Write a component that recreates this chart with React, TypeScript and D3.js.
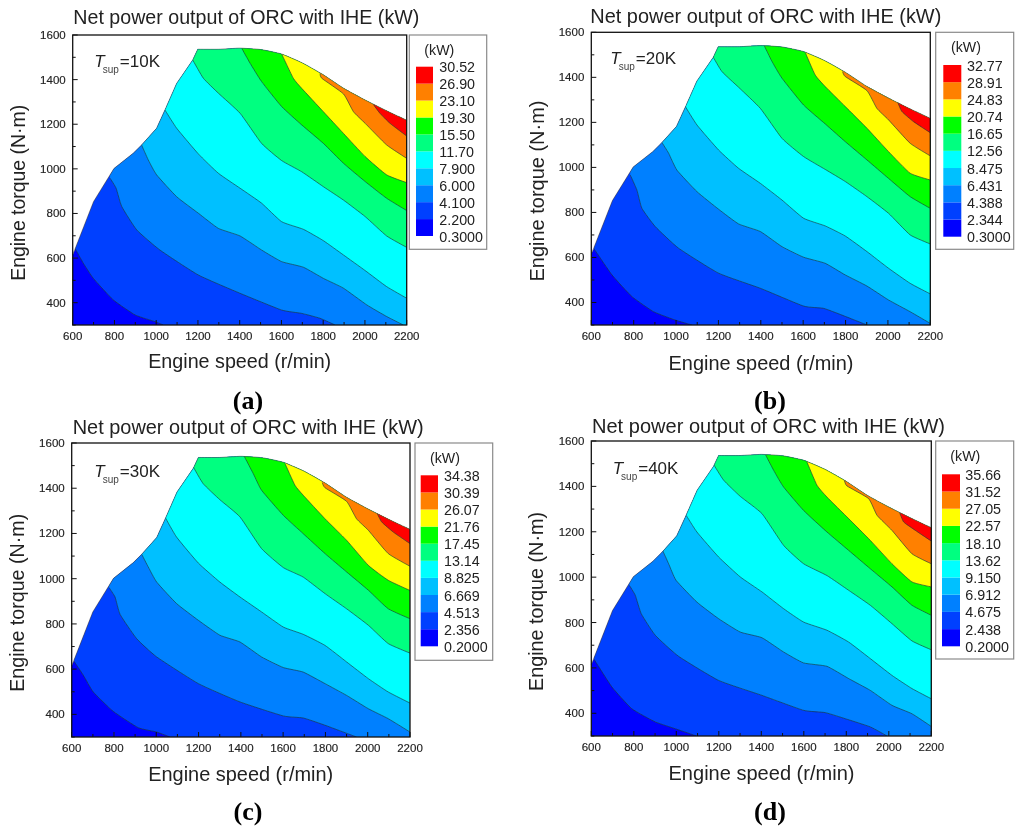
import React from "react";
import * as d3 from "d3";

type Pt = [number, number];

const titleText = "Net power output of ORC with IHE (kW)";
const xLabelText = "Engine speed (r/min)";
const yLabelText = "Engine torque (N·m)";
const xMajorTicks = [600, 800, 1000, 1200, 1400, 1600, 1800, 2000, 2200];
const xMinorTicks = [700, 900, 1100, 1300, 1500, 1700, 1900, 2100];
const yMajorTicks = [400, 600, 800, 1000, 1200, 1400, 1600];
const yMinorTicks = [300, 500, 700, 900, 1100, 1300, 1500];
const bandColors = ["#0000ff", "#0040ff", "#0080ff", "#00c0ff", "#00ffff", "#00ff80", "#00ff00", "#ffff00", "#ff8000", "#ff0000"];

const envelopeRise: Pt[] = [[600, 615], [611, 640], [700, 853], [798, 1002], [890, 1070], [930, 1107], [1002, 1182], [1042, 1264], [1098, 1383], [1175, 1488], [1199, 1536]];
const envelopeTop: Pt[] = [[1199, 1536], [1300, 1536], [1400, 1541], [1500, 1535], [1600, 1515], [1700, 1475], [1800, 1422], [1900, 1360], [2000, 1309], [2100, 1262], [2200, 1218]];

const levelsA = ["0.3000", "2.200", "4.100", "6.000", "7.900", "11.70", "15.50", "19.30", "23.10", "26.90", "30.52"];
const levelsB = ["0.3000", "2.344", "4.388", "6.431", "8.475", "12.56", "16.65", "20.74", "24.83", "28.91", "32.77"];
const levelsC = ["0.2000", "2.356", "4.513", "6.669", "8.825", "13.14", "17.45", "21.76", "26.07", "30.39", "34.38"];
const levelsD = ["0.2000", "2.438", "4.675", "6.912", "9.150", "13.62", "18.10", "22.57", "27.05", "31.52", "35.66"];

const contoursA: Pt[][] = [
  [[611, 644], [651, 577], [699, 509], [795, 412], [899, 345], [994, 315], [1034, 300]],
  [[779, 958], [808, 913], [835, 831], [907, 726], [1018, 636], [1202, 524], [1402, 442], [1601, 367], [1697, 352], [1785, 330], [1857, 300]],
  [[930, 1107], [962, 1040], [1002, 973], [1098, 875], [1202, 801], [1298, 733], [1402, 699], [1505, 636], [1601, 584], [1705, 559], [1801, 509], [1897, 465], [2009, 390], [2104, 338], [2184, 300]],
  [[1042, 1264], [1098, 1182], [1202, 1067], [1298, 980], [1402, 913], [1505, 846], [1601, 763], [1705, 729], [1801, 678], [1897, 614], [2001, 544], [2104, 472], [2200, 420]],
  [[1175, 1488], [1226, 1406], [1298, 1339], [1402, 1249], [1505, 1114], [1601, 1037], [1697, 987], [1801, 920], [1897, 860], [2001, 786], [2104, 699], [2200, 648]],
  [[1410, 1540], [1450, 1473], [1505, 1391], [1601, 1279], [1697, 1197], [1801, 1114], [1897, 1025], [2001, 943], [2104, 868], [2200, 813]],
  [[1601, 1515], [1657, 1406], [1697, 1361], [1801, 1256], [1897, 1159], [2001, 1055], [2104, 973], [2200, 938]],
  [[1785, 1428], [1793, 1406], [1897, 1336], [1945, 1256], [2001, 1204], [2104, 1107], [2200, 1047]],
  [[2040, 1289], [2072, 1249], [2120, 1204], [2200, 1147]],
];

const contoursB: Pt[][] = [
  [[611, 641], [698, 522], [792, 426], [894, 359], [996, 322], [1075, 300]],
  [[784, 966], [815, 900], [839, 818], [902, 737], [1012, 641], [1201, 530], [1398, 463], [1602, 384], [1696, 374], [1783, 344], [1901, 300]],
  [[933, 1111], [965, 1063], [1004, 988], [1099, 892], [1201, 814], [1295, 749], [1398, 715], [1500, 648], [1602, 601], [1704, 574], [1799, 522], [1901, 473], [2003, 411], [2105, 359], [2200, 307]],
  [[1044, 1270], [1099, 1188], [1201, 1077], [1295, 996], [1398, 929], [1500, 855], [1602, 774], [1704, 740], [1799, 695], [1901, 626], [2003, 552], [2105, 485], [2200, 438]],
  [[1174, 1492], [1217, 1425], [1295, 1356], [1398, 1262], [1500, 1129], [1602, 1048], [1704, 991], [1799, 937], [1901, 870], [2003, 796], [2105, 700], [2200, 660]],
  [[1416, 1541], [1453, 1470], [1500, 1396], [1602, 1277], [1704, 1193], [1799, 1114], [1901, 1033], [2003, 951], [2105, 870], [2200, 818]],
  [[1610, 1510], [1657, 1410], [1704, 1359], [1799, 1270], [1901, 1174], [2003, 1070], [2105, 974], [2200, 944]],
  [[1786, 1425], [1799, 1403], [1901, 1341], [1948, 1262], [2003, 1211], [2105, 1107], [2200, 1051]],
  [[2047, 1288], [2066, 1248], [2121, 1203], [2200, 1154]],
];

const contoursC: Pt[][] = [
  [[611, 635], [655, 573], [702, 499], [797, 413], [915, 341], [1002, 322], [1065, 300]],
  [[777, 960], [805, 919], [829, 842], [907, 735], [1002, 654], [1199, 536], [1396, 455], [1601, 393], [1695, 384], [1798, 352], [1947, 300]],
  [[931, 1108], [962, 1052], [1002, 985], [1096, 890], [1199, 816], [1301, 750], [1396, 720], [1498, 654], [1601, 607], [1695, 587], [1798, 536], [1900, 484], [2003, 425], [2097, 381], [2200, 322]],
  [[1044, 1268], [1096, 1184], [1199, 1069], [1301, 985], [1396, 919], [1498, 853], [1601, 786], [1695, 754], [1798, 705], [1900, 632], [2003, 558], [2097, 499], [2200, 450]],
  [[1175, 1494], [1222, 1420], [1301, 1349], [1396, 1273], [1498, 1133], [1601, 1049], [1695, 1007], [1798, 934], [1900, 867], [2003, 794], [2097, 713], [2200, 671]],
  [[1416, 1541], [1459, 1464], [1498, 1391], [1601, 1280], [1695, 1199], [1798, 1111], [1900, 1030], [2003, 949], [2097, 867], [2200, 823]],
  [[1609, 1509], [1656, 1413], [1695, 1369], [1798, 1265], [1900, 1170], [2003, 1059], [2097, 993], [2200, 948]],
  [[1785, 1425], [1798, 1402], [1900, 1342], [1947, 1265], [2003, 1214], [2097, 1111], [2200, 1055]],
  [[2045, 1288], [2066, 1251], [2121, 1206], [2200, 1155]],
];

const contoursD: Pt[][] = [
  [[611, 641], [697, 516], [791, 420], [901, 362], [995, 332], [1095, 300]],
  [[779, 964], [807, 920], [835, 839], [901, 744], [1011, 651], [1199, 545], [1403, 479], [1599, 413], [1701, 403], [1796, 376], [1913, 340], [1992, 300]],
  [[937, 1115], [964, 1059], [999, 986], [1097, 890], [1199, 817], [1301, 758], [1403, 733], [1505, 670], [1599, 622], [1709, 607], [1811, 553], [1913, 501], [2015, 435], [2109, 398], [2200, 342]],
  [[1047, 1272], [1097, 1199], [1199, 1089], [1301, 1001], [1403, 935], [1505, 861], [1599, 802], [1709, 766], [1811, 714], [1913, 641], [2015, 567], [2109, 509], [2200, 464]],
  [[1176, 1496], [1223, 1427], [1301, 1356], [1403, 1280], [1505, 1140], [1599, 1059], [1709, 1007], [1811, 942], [1913, 876], [2015, 795], [2109, 719], [2200, 680]],
  [[1419, 1541], [1458, 1471], [1505, 1397], [1599, 1294], [1709, 1199], [1811, 1118], [1913, 1037], [2015, 957], [2109, 876], [2200, 832]],
  [[1615, 1507], [1662, 1405], [1709, 1353], [1811, 1258], [1913, 1162], [2015, 1059], [2109, 979], [2200, 957]],
  [[1791, 1427], [1803, 1402], [1905, 1346], [1945, 1272], [2015, 1206], [2109, 1103], [2200, 1059]],
  [[2050, 1287], [2070, 1243], [2125, 1206], [2200, 1159]],
];

const panels = [
  {
    id: "a", tsup: "=10K", levels: levelsA, contours: contoursA,
    plot: [72.7, 406.7, 35, 325], box: [409.3, 486.7, 35, 249.3], sw: [416, 433, 66.7, 236], labelX: 439.3,
    unit: [439.3, 55], title: [73.3, 24, 346], xt: [239.7, 368.3, 183], yt: [25, 192.8, 176], cap: [248, 409], ts: [94.3, 66.7],
  },
  {
    id: "b", tsup: "=20K", levels: levelsB, contours: contoursB,
    plot: [591.3, 930.3, 32.3, 325], box: [935.7, 1013.7, 32.3, 249.3], sw: [943.3, 961.3, 65, 236.7], labelX: 967,
    unit: [966, 51.7], title: [590.3, 23, 351], xt: [761, 369.5, 185], yt: [543.7, 191, 181], cap: [770, 409], ts: [610.3, 64],
  },
  {
    id: "c", tsup: "=30K", levels: levelsC, contours: contoursC,
    plot: [71.7, 410, 443, 737], box: [415, 492.7, 443, 660.3], sw: [420.7, 438, 475.3, 646.3], labelX: 444,
    unit: [445, 463], title: [72.7, 434.3, 351], xt: [240.7, 781, 185], yt: [24, 602.8, 178], cap: [248, 820], ts: [94.3, 477],
  },
  {
    id: "d", tsup: "=40K", levels: levelsD, contours: contoursD,
    plot: [591.3, 931.3, 441, 736], box: [935.7, 1013.7, 441, 659], sw: [942, 960, 474.3, 646.3], labelX: 965.3,
    unit: [965.3, 461], title: [592, 433, 353], xt: [761.5, 779.7, 186], yt: [542.7, 601.5, 179], cap: [770, 820], ts: [612.7, 474.3],
  },
];

const sans = "'Liberation Sans', Arial, sans-serif";
const serif = "'Liberation Serif', 'Times New Roman', serif";
const ink = "#222";

function Panel({ p }: { p: (typeof panels)[number] }) {
  const [x0, x1, y0, y1] = p.plot;
  const x = d3.scaleLinear().domain([600, 2200]).range([x0, x1]);
  const y = d3.scaleLinear().domain([300, 1600]).range([y1, y0]);
  const line = d3.line<Pt>().x((d) => x(d[0])).y((d) => y(d[1]));
  const curve = d3.line<Pt>().x((d) => x(d[0])).y((d) => y(d[1])).curve(d3.curveCardinal.tension(0.55));

  const riseD = line(envelopeRise) as string;
  const topD = (curve(envelopeTop) as string).replace(/^M[^C]*/, "");
  const outlineD = `${riseD}${topD}L${x(2200)},${y(300)}L${x(600)},${y(300)}Z`;
  const clipId = `clip-${p.id}`;

  const regions = p.contours.map((c) => {
    const first = c[0];
    const last = c[c.length - 1];
    const tail: Pt[] = [[2200, last[1]], [2200, 1600], [first[0], 1600]];
    return `${curve(c)}${tail.map((t) => `L${x(t[0])},${y(t[1])}`).join("")}Z`;
  });

  const [sx0, sx1, sy0, sy1] = p.sw;
  const lev = d3.scaleLinear().domain([0, p.levels.length - 1]).range([sy1, sy0]);

  return (
    <g>
      <defs>
        <clipPath id={clipId}>
          <path d={outlineD} />
        </clipPath>
      </defs>
      <g clipPath={`url(#${clipId})`}>
        <path d={outlineD} fill={bandColors[0]} />
        {regions.map((d, i) => (
          <path key={i} d={d} fill={bandColors[i + 1]} />
        ))}
        {p.contours.map((c, i) => (
          <path key={i} d={curve(c) as string} fill="none" stroke="#1c3a3a" strokeOpacity={0.8} strokeWidth={0.8} />
        ))}
      </g>
      <path d={`${riseD}${topD}`} fill="none" stroke="#444" strokeOpacity={0.75} strokeWidth={0.8} />
      <rect x={x0} y={y0} width={x1 - x0} height={y1 - y0} fill="none" stroke="#111" strokeWidth={1.3} />

      {xMajorTicks.map((t) => (
        <g key={t}>
          <line x1={x(t)} x2={x(t)} y1={y1} y2={y1 - 5} stroke="#111" strokeWidth={1} />
          <text x={x(t)} y={y1 + 15} textAnchor="middle" fontFamily={sans} fontSize={11.5} fill={ink} stroke={ink} strokeWidth={0.15}>{t}</text>
        </g>
      ))}
      {xMinorTicks.map((t) => (
        <line key={t} x1={x(t)} x2={x(t)} y1={y1} y2={y1 - 3} stroke="#111" strokeWidth={1} />
      ))}
      {yMajorTicks.map((t) => (
        <g key={t}>
          <line x1={x0} x2={x0 + 5} y1={y(t)} y2={y(t)} stroke="#111" strokeWidth={1} />
          <text x={x0 - 7} y={y(t) + 4} textAnchor="end" fontFamily={sans} fontSize={11.5} fill={ink} stroke={ink} strokeWidth={0.15}>{t}</text>
        </g>
      ))}
      {yMinorTicks.map((t) => (
        <line key={t} x1={x0} x2={x0 + 3} y1={y(t)} y2={y(t)} stroke="#111" strokeWidth={1} />
      ))}

      <text x={p.title[0]} y={p.title[1]} fontFamily={sans} fontSize={20.2} textLength={p.title[2]} lengthAdjust="spacingAndGlyphs" fill={ink}>{titleText}</text>
      <text x={p.xt[0]} y={p.xt[1]} textAnchor="middle" fontFamily={sans} fontSize={19.8} textLength={p.xt[2]} lengthAdjust="spacingAndGlyphs" fill={ink}>{xLabelText}</text>
      <text transform={`translate(${p.yt[0]},${p.yt[1]}) rotate(-90)`} textAnchor="middle" fontFamily={sans} fontSize={19.8} textLength={p.yt[2]} lengthAdjust="spacingAndGlyphs" fill={ink}>{yLabelText}</text>

      <text x={p.ts[0]} y={p.ts[1]} fontFamily={sans} fontSize={17} fill={ink}>
        <tspan fontStyle="italic">T</tspan>
        <tspan fontSize={10} dx={-2} dy={6} fill="#444">sup</tspan>
        <tspan dx={1} dy={-6}>{p.tsup}</tspan>
      </text>

      <rect x={p.box[0]} y={p.box[2]} width={p.box[1] - p.box[0]} height={p.box[3] - p.box[2]} fill="#fff" stroke="#8a8a8a" strokeWidth={1.2} />
      <text x={p.unit[0]} y={p.unit[1]} textAnchor="middle" fontFamily={sans} fontSize={14.2} fill={ink}>(kW)</text>
      {bandColors.map((c, i) => (
        <rect key={c} x={sx0} y={lev(i + 1)} width={sx1 - sx0} height={lev(i) - lev(i + 1)} fill={c} />
      ))}
      {p.levels.map((l, i) => (
        <text key={l} x={p.labelX} y={lev(i) + 5.5} fontFamily={sans} fontSize={14.3} fill={ink}>{l}</text>
      ))}

      <text x={p.cap[0]} y={p.cap[1]} textAnchor="middle" fontFamily={serif} fontSize={26} fontWeight="bold" fill="#000">
        ({p.id})
      </text>
    </g>
  );
}

export default function App() {
  return (
    <svg width={1024} height={834} style={{ position: "absolute", left: 0, top: 0, background: "#fff" }}>
      <defs>
        <filter id="soft" x="0" y="0" width="100%" height="100%">
          <feGaussianBlur stdDeviation={0.45} />
        </filter>
      </defs>
      <g filter="url(#soft)">
        <rect width={1024} height={834} fill="#fff" />
        {panels.map((p) => (
          <Panel key={p.id} p={p} />
        ))}
      </g>
    </svg>
  );
}
